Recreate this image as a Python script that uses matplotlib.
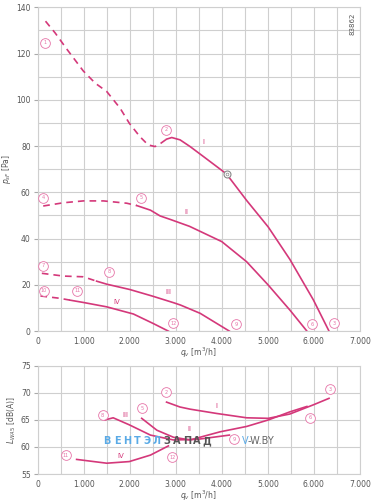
import matplotlib
matplotlib.use('Agg')
import matplotlib.pyplot as plt
from matplotlib.ticker import MultipleLocator, FuncFormatter

# pressure curves (q in m3/h, p in Pa); dashed = unstable part
q1_dash = [170, 380, 630, 990, 1250, 1500, 1790, 1990, 2220, 2400, 2550, 2660, 2800]
p1_dash = [134, 128.9, 122, 112.5, 107.2, 103.6, 96.4, 89.9, 84.1, 80.5, 79.8, 81, 83]
q1 = [2800, 2913, 3093, 3311, 3600, 4100, 4540, 5010, 5480, 5990, 6330]
p1 = [83, 83.7, 82.7, 79.8, 75.5, 68, 56.5, 45, 31, 13.5, 0]

q2_dash = [120, 560, 990, 1430, 1935, 2150]
p2_dash = [54.1, 55.5, 56.3, 56.3, 55.3, 54.3]
q2 = [2150, 2450, 2660, 2880, 3300, 4000, 4540, 5010, 5480, 5850]
p2 = [54.3, 52.3, 49.8, 48.3, 45.3, 38.7, 30, 19.9, 9.1, 0]

q3_dash = [90, 560, 990, 1280]
p3_dash = [25, 23.8, 23.5, 21.6]
q3 = [1280, 1500, 2000, 2500, 2950, 3100, 3530, 4165]
p3 = [21.6, 20.3, 18, 15.1, 12.3, 11.3, 7.7, 0]

q4_dash = [60, 480, 700]
p4_dash = [15.2, 14.2, 13.4]
q4 = [700, 990, 1500, 2080, 2510, 2840]
p4 = [13.4, 12.4, 10.5, 7.4, 3.3, 0]

# sound power curves (dB(A))
qs1 = [2800, 3090, 3310, 3890, 4540, 5010, 5480, 5990, 6330]
L1 = [68.3, 67.4, 67, 66.2, 65.4, 65.3, 66.1, 67.8, 69]
qs2 = [2260, 2590, 2950, 3310, 3960, 4540, 5010, 5480, 5850]
L2 = [65.3, 63.1, 61.8, 61.3, 62.8, 63.8, 65, 66.5, 67.5]
qs3 = [1460, 1640, 1990, 2450, 2950, 3460, 4165]
L3 = [65, 65.4, 64.1, 62.2, 61.3, 61.4, 62.2]
qs4 = [846, 1500, 1990, 2450, 2840]
L4 = [57.7, 57, 57.3, 58.5, 60.2]

# point markers
top_pts = ['1', '2', '3', '4', '5', '6', '7', '8', '9', '10', '11', '12']
top_q = [159, 2783, 6435, 122, 2246, 5970, 122, 1557, 4304, 137, 861, 2948]
top_p = [124.7, 87, 3.3, 57.7, 57.7, 3, 28.3, 25.7, 3, 17.4, 17.4, 3.3]
bot_pts = ['11', '8', '5', '2', '12', '3', '6', '9']
bot_q = [609, 1413, 2261, 2789, 2926, 6354, 5920, 4274]
bot_L = [58.5, 65.9, 67.2, 70.1, 58.1, 70.7, 65.4, 61.4]

roman = ['I', 'II', 'III', 'IV']
top_rq = [3593, 3224, 2839, 1717]
top_rp = [81.8, 51.6, 17, 12.7]
bot_rq = [3891, 3296, 1913, 1804]
bot_rL = [67.6, 63.3, 65.9, 58.3]

watermark = 'ВЕНТЭЛЗАПАД'

PINK = '#d4387a'
LPINK = '#e674a8'
GRID = '#cfcfcf'
TXT = '#555555'


def thousands(x, pos):
    if x == 0:
        return '0'
    return f'{int(x / 1000)}.000'


def style_axes(ax):
    ax.set_xlim(0, 7000)
    ax.xaxis.set_major_locator(MultipleLocator(1000))
    ax.xaxis.set_minor_locator(MultipleLocator(500))
    ax.xaxis.set_major_formatter(FuncFormatter(thousands))
    ax.grid(which='both', color=GRID, linewidth=0.8)
    ax.set_axisbelow(True)
    for s in ax.spines.values():
        s.set_color(GRID)
        s.set_linewidth(0.8)
    ax.tick_params(axis='x', which='both', length=0, labelsize=5.5,
                   labelcolor=TXT, pad=4)
    ax.tick_params(axis='y', which='major', length=3, color='#aaaaaa',
                   labelsize=5.5, labelcolor=TXT, pad=2)
    ax.tick_params(axis='y', which='minor', length=0)


def circ(ax, x, y, s):
    ax.plot([x], [y], marker='o', ms=7, mfc='white', mec=LPINK, mew=0.6,
            zorder=4)
    ax.text(x, y, s, fontsize=3.6, color=LPINK, ha='center', va='center',
            zorder=5)


fig = plt.figure(figsize=(3.78, 5.04), dpi=100)
ax1 = fig.add_axes([0.0997, 0.343, 0.8523, 0.6425])
ax2 = fig.add_axes([0.0997, 0.0595, 0.8523, 0.2145])

# top: pressure
style_axes(ax1)
ax1.set_ylim(0, 140)
ax1.yaxis.set_major_locator(MultipleLocator(20))
ax1.yaxis.set_minor_locator(MultipleLocator(10))
dash = dict(color=PINK, lw=1.2, linestyle=(0, (4, 3)))
solid = dict(color=PINK, lw=1.2)
ax1.plot(q1_dash, p1_dash, **dash)
ax1.plot(q1, p1, **solid)
ax1.plot(q2_dash, p2_dash, **dash)
ax1.plot(q2, p2, **solid)
ax1.plot(q3_dash, p3_dash, **dash)
ax1.plot(q3, p3, **solid)
ax1.plot(q4_dash, p4_dash, **dash)
ax1.plot(q4, p4, **solid)
for s, x, y in zip(top_pts, top_q, top_p):
    circ(ax1, x, y, s)
for s, x, y in zip(roman, top_rq, top_rp):
    ax1.text(x, y, s, fontsize=5, color=PINK, ha='center', va='center')
ax1.plot([4108], [68], marker='o', ms=5, mfc='white', mec='#888888', mew=0.8)
ax1.plot([4108], [68], marker='o', ms=2, mfc='none', mec='#888888', mew=0.5)
ax1.text(0.985, 0.985, '83862', transform=ax1.transAxes, rotation=90,
         fontsize=5, color=TXT, ha='right', va='top')
ax1.set_ylabel('$p_{sF}$ [Pa]', fontsize=5.5, color=TXT, labelpad=2)
ax1.set_xlabel('$q_v$ [m$^3$/h]', fontsize=5.5, color=TXT, labelpad=0)

# bottom: sound power
style_axes(ax2)
ax2.set_ylim(55, 75)
ax2.yaxis.set_major_locator(MultipleLocator(5))
ax2.plot(qs1, L1, **solid)
ax2.plot(qs2, L2, **solid)
ax2.plot(qs3, L3, **solid)
ax2.plot(qs4, L4, **solid)
for s, x, y in zip(bot_pts, bot_q, bot_L):
    circ(ax2, x, y, s)
for s, x, y in zip(roman, bot_rq, bot_rL):
    ax2.text(x, y, s, fontsize=5, color=PINK, ha='center', va='center')
ax2.set_ylabel('$L_{WA5}$ [dB(A)]', fontsize=5.5, color=TXT, labelpad=2)
ax2.set_xlabel('$q_v$ [m$^3$/h]', fontsize=5.5, color=TXT, labelpad=0)

# watermark, one letter at a time
wy = 1 - 441 / 504
for i, ch in enumerate(watermark):
    col = '#5aaae6' if i < 6 else '#555555'
    fig.text((107 + i * 10) / 378, wy, ch, fontsize=7, color=col,
             fontweight='bold', va='center', ha='center')
fig.text(242 / 378, wy, 'V', fontsize=7, color='#5aaae6',
         va='center', ha='left')
fig.text(248 / 378, wy, '-W.BY', fontsize=7, color='#666666',
         va='center', ha='left')

fig.savefig('out.png', dpi=100)
